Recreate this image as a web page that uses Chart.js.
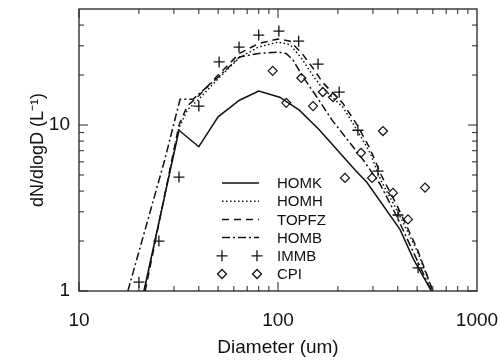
<!DOCTYPE html>
<html>
<head>
<meta charset="utf-8">
<script src="https://cdn.jsdelivr.net/npm/chart.js@4.4.1/dist/chart.umd.min.js"></script>
<style>
  html, body { margin: 0; padding: 0; background: #fff; }
</style>
</head>
<body>
<canvas id="chart" width="500" height="360"></canvas>
<script>
// Values: diameter (um) and dN/dlogD (L^-1)
const homkD = [21.2, 31.8, 40, 50, 64, 80, 102, 128, 162, 200, 244, 280, 410, 480, 590];
const homkN = [1.0, 9.3, 7.4, 11.2, 14.1, 16.0, 14.7, 12.3, 9.3, 7.0, 5.35, 4.5, 2.35, 1.55, 1.0];

const homhD = [21.3, 31.8, 35, 40, 50, 64, 80, 100, 115, 132, 150, 165, 212, 250, 290, 330, 400, 500, 600];
const homhN = [1.0, 9.6, 12.3, 14.3, 19, 25.5, 29.5, 31.6, 30.5, 25, 19.8, 17, 12.8, 9.3, 6.8, 4.6, 3.0, 1.75, 1.0];

const topfzD = [21.5, 31.8, 35, 40, 50, 64, 80, 100, 115, 132, 150, 168, 212, 250, 290, 330, 400, 500, 600];
const topfzN = [1.0, 10, 13, 15, 20, 27, 31, 33, 32, 27, 22, 18, 13.5, 10, 7.2, 5.0, 3.2, 1.8, 1.0];

const hombD = [17.6, 27, 32.2, 37.4, 50, 64, 80, 100, 110, 119, 134, 157, 187, 230, 267, 326, 396, 590];
const hombN = [1.0, 6.2, 14.3, 14.3, 19.4, 25.7, 27, 27.5, 27, 24.6, 19.4, 14.7, 10.7, 7.8, 6.2, 4.4, 2.8, 1.0];

const immbD = [20, 25.2, 31.8, 40, 50.6, 63.7, 80, 101, 127, 159, 203, 252, 318, 401, 506];
const immbN = [1.13, 2.0, 4.86, 13, 24, 29.5, 34.8, 36.8, 32, 23.3, 15.8, 9.3, 5.28, 2.87, 1.38];

const cpiD = [94, 110, 131, 150, 168, 189, 217, 261, 297, 337, 378, 450, 548];
const cpiN = [21.2, 13.6, 19.2, 13.0, 15.8, 14.7, 4.8, 6.8, 4.8, 9.2, 3.9, 2.7, 4.2];

const xTicks = [10, 100, 1000];
const yTicks = [1, 10];

const FONT = "'Liberation Sans', Arial, Helvetica, sans-serif";

const toXY = (xs, ys) => xs.map((x, i) => ({ x: x, y: ys[i] }));

// Frame with inward ticks on all four sides
const frameTicks = {
  id: "frameTicks",
  afterDatasetsDraw(chart) {
    const { ctx, chartArea: a, scales } = chart;
    const xs = scales.x, ys = scales.y;
    ctx.save();
    ctx.strokeStyle = "#222";
    ctx.lineWidth = 1.3;
    ctx.strokeRect(a.left, a.top, a.right - a.left, a.bottom - a.top);
    ctx.lineWidth = 1;
    ctx.beginPath();
    for (let dec = 10; dec < 1000; dec *= 10) {
      for (let m = 1; m < 10; m++) {
        const v = dec * m;
        const px = xs.getPixelForValue(v);
        const len = m === 1 ? 9 : 5;
        ctx.moveTo(px, a.bottom); ctx.lineTo(px, a.bottom - len);
        ctx.moveTo(px, a.top); ctx.lineTo(px, a.top + len);
      }
    }
    for (let dec = 1; dec <= 10; dec *= 10) {
      for (let m = 1; m < 10; m++) {
        const v = dec * m;
        if (v >= 50) break;
        const py = ys.getPixelForValue(v);
        const len = m === 1 ? 9 : 5;
        ctx.moveTo(a.left, py); ctx.lineTo(a.left + len, py);
        ctx.moveTo(a.right, py); ctx.lineTo(a.right - len, py);
      }
    }
    ctx.stroke();
    ctx.restore();
  }
};

function drawCross(ctx, x, y, r) {
  ctx.beginPath();
  ctx.moveTo(x - r, y); ctx.lineTo(x + r, y);
  ctx.moveTo(x, y - r); ctx.lineTo(x, y + r);
  ctx.stroke();
}

function drawDiamond(ctx, x, y, r) {
  ctx.beginPath();
  ctx.moveTo(x, y - r); ctx.lineTo(x + r, y);
  ctx.lineTo(x, y + r); ctx.lineTo(x - r, y);
  ctx.closePath();
  ctx.stroke();
}

// Legend inside the plot, line sample then label
const insideLegend = {
  id: "insideLegend",
  afterDraw(chart) {
    const ctx = chart.ctx;
    const x0 = 222, x1 = 257, tx = 277;
    const y0 = 183, step = 18.2;
    ctx.save();
    ctx.font = "15px " + FONT;
    ctx.textBaseline = "middle";
    ctx.fillStyle = "#111";
    chart.data.datasets.forEach((ds, i) => {
      const y = y0 + i * step;
      ctx.strokeStyle = "#111";
      if (ds.showLine === false) {
        ctx.lineWidth = 1.3;
        ctx.setLineDash([]);
        if (ds.pointStyle === "cross") {
          drawCross(ctx, x0, y, 5.5);
          drawCross(ctx, x1, y, 5.5);
        } else {
          drawDiamond(ctx, x0, y, 4.5);
          drawDiamond(ctx, x1, y, 4.5);
        }
      } else {
        ctx.lineWidth = ds.borderWidth;
        ctx.setLineDash(ds.borderDash || []);
        ctx.beginPath();
        ctx.moveTo(x0, y); ctx.lineTo(x1 + 2, y);
        ctx.stroke();
      }
      ctx.setLineDash([]);
      ctx.fillText(ds.label, tx, y + 1);
    });
    ctx.restore();
  }
};

const lineDefaults = {
  borderColor: "#111",
  borderWidth: 1.5,
  pointRadius: 0,
  tension: 0,
  fill: false,
};

new Chart(document.getElementById("chart").getContext("2d"), {
  type: "line",
  data: {
    datasets: [
      { ...lineDefaults, label: "HOMK", data: toXY(homkD, homkN) },
      { ...lineDefaults, label: "HOMH", data: toXY(homhD, homhN), borderDash: [1.5, 2.5] },
      { ...lineDefaults, label: "TOPFZ", data: toXY(topfzD, topfzN), borderDash: [7, 5] },
      { ...lineDefaults, label: "HOMB", data: toXY(hombD, hombN), borderDash: [8, 3, 2, 3] },
      {
        label: "IMMB",
        data: toXY(immbD, immbN),
        showLine: false,
        pointStyle: "cross",
        pointRadius: 5.5,
        borderColor: "#111",
        borderWidth: 1.3,
      },
      {
        label: "CPI",
        data: toXY(cpiD, cpiN),
        showLine: false,
        pointStyle: "rectRot",
        pointRadius: 4.5,
        borderColor: "#111",
        backgroundColor: "rgba(0,0,0,0)",
        borderWidth: 1.2,
      },
    ],
  },
  options: {
    responsive: false,
    animation: false,
    layout: { padding: { top: 9, right: 23, left: 0, bottom: 0 } },
    plugins: {
      legend: { display: false },
      tooltip: { enabled: false },
    },
    scales: {
      x: {
        type: "logarithmic",
        min: 10,
        max: 1000,
        grid: { display: false, drawTicks: false },
        border: { display: false },
        afterBuildTicks: (scale) => {
          scale.ticks = xTicks.map((v) => ({ value: v }));
        },
        afterFit: (scale) => {
          scale.height = 69;
          scale.paddingLeft = 0;
          scale.paddingRight = 0;
        },
        ticks: {
          padding: 18,
          color: "#111",
          font: { family: FONT, size: 19 },
          callback: (v) => String(v),
          maxRotation: 0,
        },
        title: {
          display: true,
          text: "Diameter (um)",
          color: "#111",
          font: { family: FONT, size: 19 },
          padding: { top: 1, bottom: 1 },
        },
      },
      y: {
        type: "logarithmic",
        min: 1,
        max: 50,
        grid: { display: false, drawTicks: false },
        border: { display: false },
        afterBuildTicks: (scale) => {
          scale.ticks = yTicks.map((v) => ({ value: v }));
        },
        afterFit: (scale) => {
          scale.width = 79;
          scale.paddingTop = 0;
          scale.paddingBottom = 0;
        },
        ticks: {
          padding: 9,
          color: "#111",
          font: { family: FONT, size: 19 },
          callback: (v) => String(v),
        },
        title: {
          display: true,
          text: "dN/dlogD (L\u207B\u00B9)",
          color: "#111",
          font: { family: FONT, size: 18 },
          padding: { top: 27, bottom: 0 },
        },
      },
    },
  },
  plugins: [frameTicks, insideLegend],
});
</script>
</body>
</html>
